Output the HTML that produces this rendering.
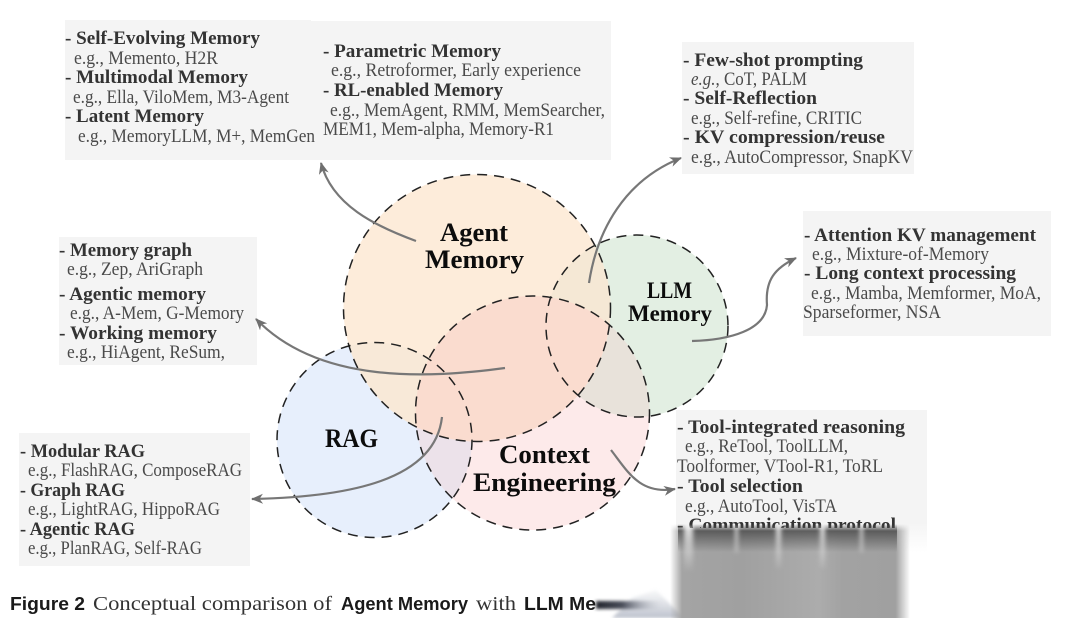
<!DOCTYPE html>
<html>
<head>
<meta charset="utf-8">
<style>
html,body{margin:0;padding:0;background:#fff;width:1080px;height:618px;overflow:hidden}
svg{display:block;position:absolute;left:0;top:0;filter:blur(.3px)}
text{font-family:"Liberation Serif",serif;font-size:19px;fill:#4a4a4a}
text.b{font-weight:bold;fill:#333;font-size:19px}
text.l{font-weight:bold;fill:#0c0c0c;font-size:26px}
text.m{font-weight:bold;fill:#0c0c0c;font-size:23px}
text.s{font-family:"Liberation Sans",sans-serif;font-weight:bold;fill:#1a1a1a;font-size:18px}
text.c{fill:#333;font-size:20px}
</style>
</head>
<body>
<svg width="1080" height="618" viewBox="0 0 1080 618" xmlns="http://www.w3.org/2000/svg">
<defs>
<clipPath id="cA"><circle cx="477" cy="308" r="133.5"/></clipPath>
<clipPath id="cC"><circle cx="532.5" cy="413" r="117"/></clipPath>
<clipPath id="cT"><rect x="670" y="400" width="270" height="128"/></clipPath>
<marker id="ah" markerUnits="userSpaceOnUse" markerWidth="14" markerHeight="12" refX="11" refY="5" orient="auto">
<path d="M0,0 L12,5 L0,10 L3.5,5 Z" fill="#6f6f6f"/>
</marker>
<linearGradient id="st" gradientUnits="userSpaceOnUse" x1="670" x2="910" y1="0" y2="0">
<stop offset="0" stop-color="#a4a4a4" stop-opacity="0"/>
<stop offset=".05" stop-color="#a4a4a4"/>
<stop offset=".3" stop-color="#a0a0a0"/>
<stop offset=".46" stop-color="#a6a6a6"/>
<stop offset=".62" stop-color="#acacac"/>
<stop offset=".72" stop-color="#a2a2a2"/>
<stop offset=".94" stop-color="#a0a0a0"/>
<stop offset="1" stop-color="#a0a0a0" stop-opacity="0"/>
</linearGradient>
<linearGradient id="vtop" gradientUnits="userSpaceOnUse" x1="0" x2="0" y1="524" y2="531">
<stop offset="0" stop-color="#000"/>
<stop offset="1" stop-color="#fff"/>
</linearGradient>
<mask id="mv"><rect x="660" y="520" width="260" height="98" fill="url(#vtop)"/></mask>
<linearGradient id="dk" gradientUnits="userSpaceOnUse" x1="0" x2="0" y1="526" y2="552">
<stop offset="0" stop-color="#3c3c3c" stop-opacity=".85"/>
<stop offset="1" stop-color="#3c3c3c" stop-opacity="0"/>
</linearGradient>
<linearGradient id="lt" gradientUnits="userSpaceOnUse" x1="0" x2="0" y1="526" y2="572">
<stop offset="0" stop-color="#eee" stop-opacity=".95"/>
<stop offset="1" stop-color="#eee" stop-opacity="0"/>
</linearGradient>
<linearGradient id="ds" x1="0" x2="1" y1="0" y2="0">
<stop offset="0" stop-color="#23262e"/>
<stop offset=".4" stop-color="#4a4e5a"/>
<stop offset="1" stop-color="#b8bdc9" stop-opacity="0"/>
</linearGradient>
<linearGradient id="wd" gradientUnits="userSpaceOnUse" x1="0" x2="0" y1="590" y2="618">
<stop offset="0" stop-color="#d6d9e0" stop-opacity=".2"/>
<stop offset="1" stop-color="#bcc1cc"/>
</linearGradient>
<linearGradient id="gbox" gradientUnits="userSpaceOnUse" x1="0" x2="0" y1="522" y2="552">
<stop offset="0" stop-color="#f4f4f4"/>
<stop offset="1" stop-color="#fff"/>
</linearGradient>
<filter id="b1" x="-20%" y="-40%" width="140%" height="180%"><feGaussianBlur stdDeviation="1.6"/></filter>
<filter id="b2" x="-100%" y="-20%" width="300%" height="140%"><feGaussianBlur stdDeviation="2"/></filter>
</defs>

<!-- boxes -->
<rect x="65" y="20" width="246" height="140" fill="#f4f4f4"/>
<rect x="310" y="21" width="301" height="139" fill="#f4f4f4"/>
<rect x="682" y="42" width="232" height="132" fill="#f4f4f4"/>
<rect x="803" y="211" width="248" height="125" fill="#f4f4f4"/>
<rect x="59" y="237" width="198" height="128" fill="#f4f4f4"/>
<rect x="19" y="433" width="231" height="133" fill="#f4f4f4"/>
<rect x="676" y="410" width="251" height="142" fill="url(#gbox)"/>

<!-- circles -->
<circle cx="374.5" cy="440" r="97.5" fill="#e7effc"/>
<circle cx="637" cy="326" r="91" fill="#e3efe3"/>
<circle cx="532.5" cy="413" r="117" fill="#fdeaea"/>
<g clip-path="url(#cC)"><circle cx="374.5" cy="440" r="97.5" fill="#ece2ea"/><circle cx="637" cy="326" r="91" fill="#e8e2da"/></g>
<circle cx="477" cy="308" r="133.5" fill="#fdecda"/>
<g clip-path="url(#cA)"><circle cx="374.5" cy="440" r="97.5" fill="#f8e9d8"/><circle cx="637" cy="326" r="91" fill="#f5e8d5"/><circle cx="532.5" cy="413" r="117" fill="#fadccf"/></g>
<g fill="none" stroke="#222" stroke-width="1.5" stroke-dasharray="10 7">
<circle cx="477" cy="308" r="133.5"/>
<circle cx="637" cy="326" r="91"/>
<circle cx="374.5" cy="440" r="97.5"/>
<circle cx="532.5" cy="413" r="117"/>
</g>

<!-- connectors -->
<g fill="none" stroke="#777" stroke-width="2.2" marker-end="url(#ah)">
<path d="M416,241 C375,226 332,205 321,163"/>
<path d="M589,283 C597,230 625,180 681,158"/>
<path d="M692,341 C730,340 765,330 767,305 C765,280 775,268 796,258"/>
<path d="M505,368 C430,378 320,385 256,319"/>
<path d="M442,417 C435,480 350,497 252,499"/>
<path d="M611,450 C628,472 640,495 675,489"/>
</g>

<!-- circle labels -->
<text class="l" x="440" y="241" textLength="68" lengthAdjust="spacingAndGlyphs">Agent</text>
<text class="l" x="425" y="268" textLength="99" lengthAdjust="spacingAndGlyphs">Memory</text>
<text class="m" x="647" y="298" textLength="45" lengthAdjust="spacingAndGlyphs">LLM</text>
<text class="m" x="628" y="321" textLength="84" lengthAdjust="spacingAndGlyphs">Memory</text>
<text class="l" x="325" y="447" textLength="53" lengthAdjust="spacingAndGlyphs">RAG</text>
<text class="l" x="499" y="463" textLength="91" lengthAdjust="spacingAndGlyphs">Context</text>
<text class="l" x="473" y="491" textLength="143" lengthAdjust="spacingAndGlyphs">Engineering</text>

<!-- top-left box -->
<text class="b" x="65" y="44" textLength="195" lengthAdjust="spacingAndGlyphs">- Self-Evolving Memory</text>
<text x="74" y="64" textLength="144" lengthAdjust="spacingAndGlyphs">e.g., Memento, H2R</text>
<text class="b" x="65" y="83" textLength="183" lengthAdjust="spacingAndGlyphs">- Multimodal Memory</text>
<text x="73" y="103" textLength="216" lengthAdjust="spacingAndGlyphs">e.g., Ella, ViloMem, M3-Agent</text>
<text class="b" x="65" y="122" textLength="139" lengthAdjust="spacingAndGlyphs">- Latent Memory</text>
<text x="78" y="142" textLength="237" lengthAdjust="spacingAndGlyphs">e.g., MemoryLLM, M+, MemGen</text>
<text class="b" x="323" y="57" textLength="178" lengthAdjust="spacingAndGlyphs">- Parametric Memory</text>
<text x="331" y="76" textLength="250" lengthAdjust="spacingAndGlyphs">e.g., Retroformer, Early experience</text>
<text class="b" x="323" y="96" textLength="180" lengthAdjust="spacingAndGlyphs">- RL-enabled Memory</text>
<text x="330" y="116" textLength="275" lengthAdjust="spacingAndGlyphs">e.g., MemAgent, RMM, MemSearcher,</text>
<text x="323" y="135" textLength="231" lengthAdjust="spacingAndGlyphs">MEM1, Mem-alpha, Memory-R1</text>

<!-- top-right box -->
<text class="b" x="683" y="66" textLength="180" lengthAdjust="spacingAndGlyphs">- Few-shot prompting</text>
<text x="691" y="85" textLength="116" lengthAdjust="spacingAndGlyphs"><tspan font-style="italic">e.g.</tspan>, CoT, PALM</text>
<text class="b" x="683" y="104" textLength="134" lengthAdjust="spacingAndGlyphs">- Self-Reflection</text>
<text x="691" y="124" textLength="171" lengthAdjust="spacingAndGlyphs">e.g., Self-refine, CRITIC</text>
<text class="b" x="683" y="143" textLength="202" lengthAdjust="spacingAndGlyphs">- KV compression/reuse</text>
<text x="691" y="163" textLength="222" lengthAdjust="spacingAndGlyphs">e.g., AutoCompressor, SnapKV</text>

<!-- right box -->
<text class="b" x="804" y="241" textLength="232" lengthAdjust="spacingAndGlyphs">- Attention KV management</text>
<text x="812" y="260" textLength="177" lengthAdjust="spacingAndGlyphs">e.g., Mixture-of-Memory</text>
<text class="b" x="804" y="279" textLength="212" lengthAdjust="spacingAndGlyphs">- Long context processing</text>
<text x="811" y="299" textLength="230" lengthAdjust="spacingAndGlyphs">e.g., Mamba, Memformer, MoA,</text>
<text x="803" y="318" textLength="138" lengthAdjust="spacingAndGlyphs">Sparseformer, NSA</text>

<!-- left box -->
<text class="b" x="59" y="256" textLength="133" lengthAdjust="spacingAndGlyphs">- Memory graph</text>
<text x="67" y="275" textLength="136" lengthAdjust="spacingAndGlyphs">e.g., Zep, AriGraph</text>
<text class="b" x="59" y="300" textLength="147" lengthAdjust="spacingAndGlyphs">- Agentic memory</text>
<text x="70" y="319" textLength="174" lengthAdjust="spacingAndGlyphs">e.g., A-Mem, G-Memory</text>
<text class="b" x="59" y="339" textLength="158" lengthAdjust="spacingAndGlyphs">- Working memory</text>
<text x="67" y="358" textLength="158" lengthAdjust="spacingAndGlyphs">e.g., HiAgent, ReSum,</text>

<!-- RAG box -->
<text class="b" x="20" y="457" textLength="125" lengthAdjust="spacingAndGlyphs">- Modular RAG</text>
<text x="28" y="476" textLength="214" lengthAdjust="spacingAndGlyphs">e.g., FlashRAG, ComposeRAG</text>
<text class="b" x="20" y="496" textLength="105" lengthAdjust="spacingAndGlyphs">- Graph RAG</text>
<text x="28" y="515" textLength="192" lengthAdjust="spacingAndGlyphs">e.g., LightRAG, HippoRAG</text>
<text class="b" x="20" y="535" textLength="115" lengthAdjust="spacingAndGlyphs">- Agentic RAG</text>
<text x="28" y="554" textLength="174" lengthAdjust="spacingAndGlyphs">e.g., PlanRAG, Self-RAG</text>

<!-- tool box -->
<text class="b" x="677" y="433" textLength="228" lengthAdjust="spacingAndGlyphs">- Tool-integrated reasoning</text>
<text x="685" y="452" textLength="163" lengthAdjust="spacingAndGlyphs">e.g., ReTool, ToolLLM,</text>
<text x="677" y="472" textLength="206" lengthAdjust="spacingAndGlyphs">Toolformer, VTool-R1, ToRL</text>
<text class="b" x="677" y="492" textLength="126" lengthAdjust="spacingAndGlyphs">- Tool selection</text>
<text x="685" y="512" textLength="152" lengthAdjust="spacingAndGlyphs">e.g., AutoTool, VisTA</text>
<g clip-path="url(#cT)"><text class="b" x="677" y="531" textLength="219" lengthAdjust="spacingAndGlyphs">- Communication protocol</text></g>

<!-- blur smear -->
<polygon points="612,618 632,598 656,590 684,618" fill="url(#wd)" filter="url(#b1)"/>
<rect x="596" y="601" width="66" height="8" fill="url(#ds)" filter="url(#b1)"/>
<g mask="url(#mv)">
<rect x="670" y="522" width="240" height="96" fill="url(#st)"/>
<rect x="678" y="522" width="219" height="30" fill="url(#dk)"/>
<g filter="url(#b2)" fill="url(#lt)">
<rect x="684" y="522" width="9" height="50"/>
<rect x="776" y="522" width="5" height="46"/>
<rect x="820" y="522" width="5" height="46"/>
<rect x="735" y="522" width="3" height="30"/>
<rect x="860" y="522" width="3" height="30"/>
</g>
</g>

<!-- caption -->
<text class="s" x="10" y="610" textLength="75" lengthAdjust="spacingAndGlyphs">Figure 2</text>
<text class="c" x="93" y="610" textLength="239" lengthAdjust="spacingAndGlyphs">Conceptual comparison of</text>
<text class="s" x="341" y="610" textLength="127" lengthAdjust="spacingAndGlyphs">Agent Memory</text>
<text class="c" x="476" y="610" textLength="40" lengthAdjust="spacingAndGlyphs">with</text>
<text class="s" x="524" y="610" textLength="72" lengthAdjust="spacingAndGlyphs">LLM Me</text>
</svg>
</body>
</html>
